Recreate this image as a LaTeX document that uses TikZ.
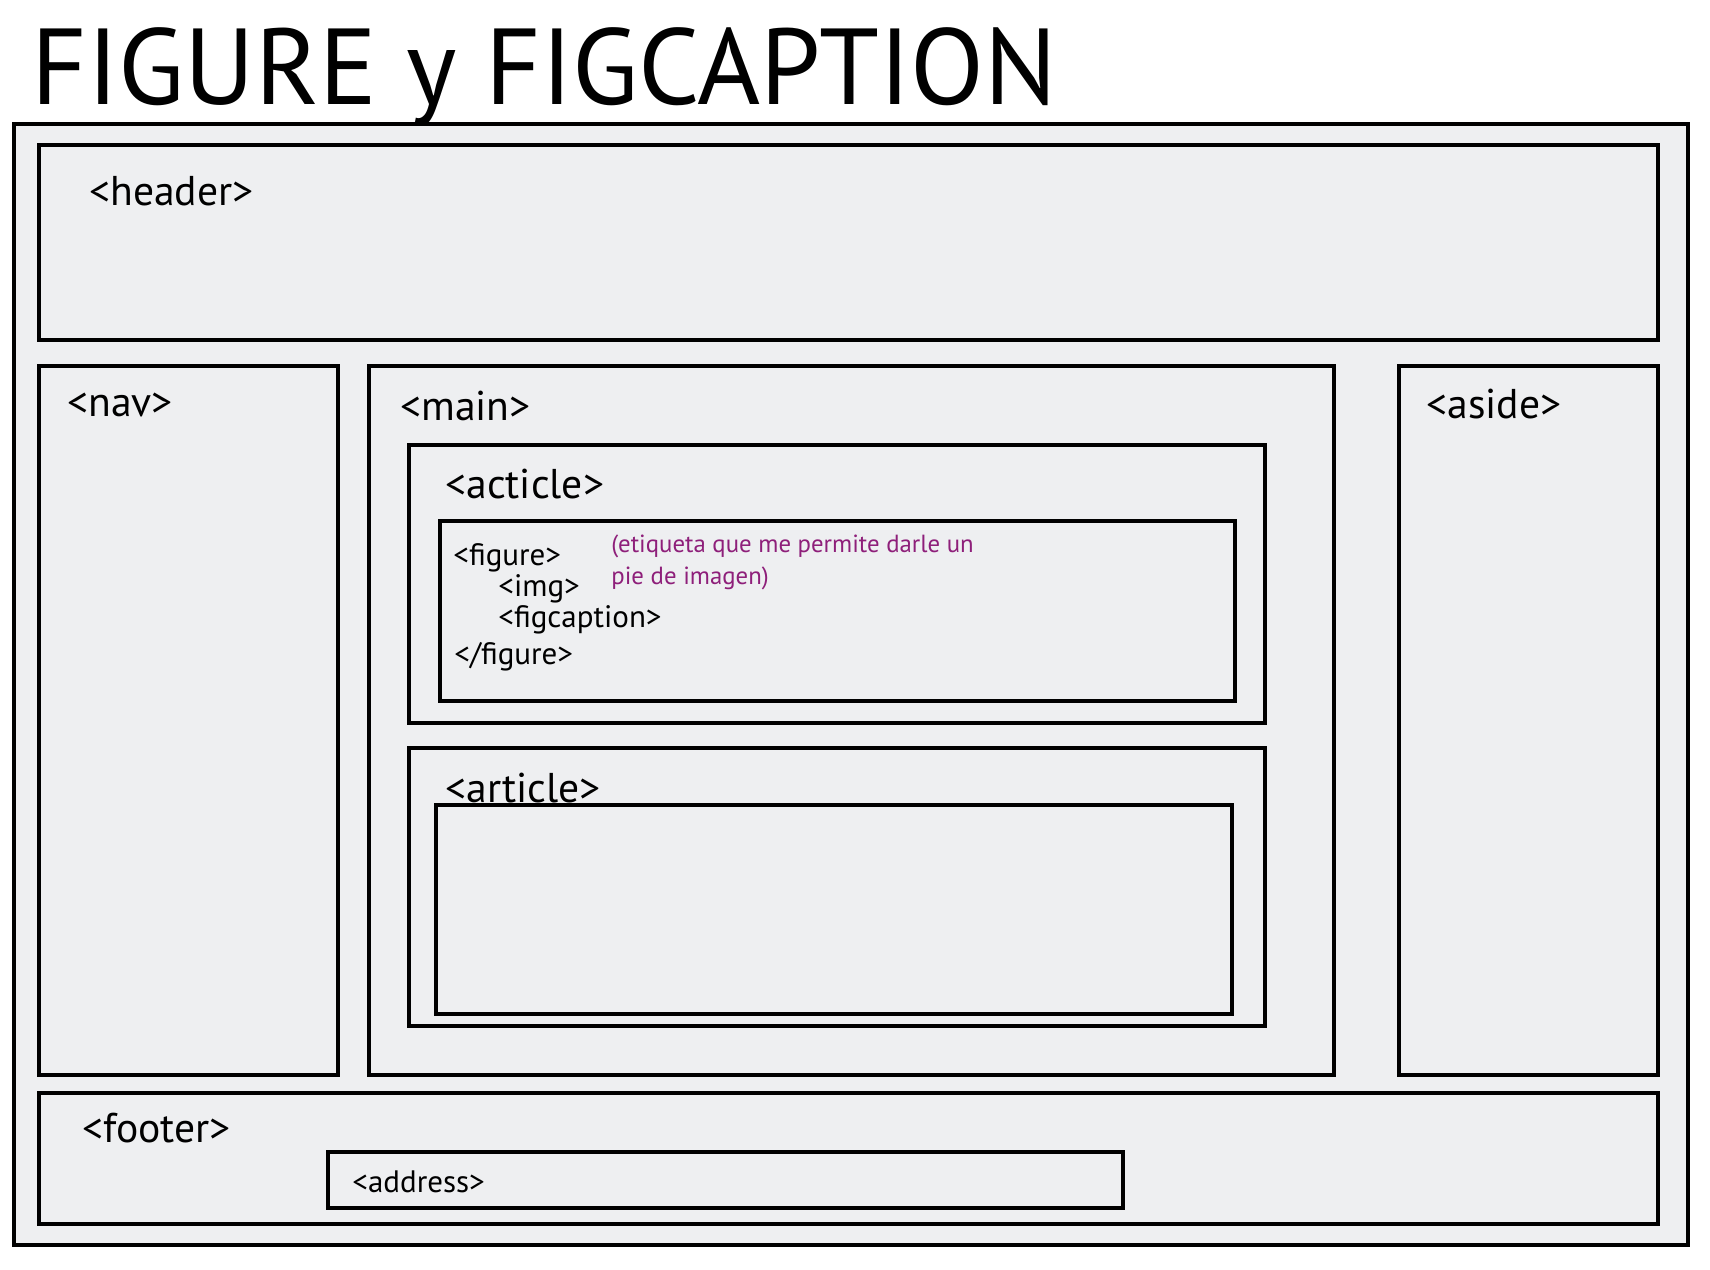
\documentclass[tikz,border=0pt]{standalone}
\usepackage{fontspec}
\setmainfont{PT Sans}
\usepackage{xcolor}
\usepackage{tikz}
\usetikzlibrary{positioning}

\definecolor{boxgray}{RGB}{238,239,241}
\definecolor{notepurple}{RGB}{142,31,122}

\tikzset{
  box/.style={draw=black, line width=1.9pt, fill=boxgray},
  tag/.style={anchor=west, inner sep=0pt, font=\fontsize{20.8}{24}\selectfont},
  smalltag/.style={anchor=west, inner sep=0pt, font=\fontsize{15.5}{18}\selectfont},
  note/.style={anchor=west, inner sep=0pt, text=notepurple, font=\fontsize{12.4}{15}\selectfont}
}

\begin{document}
\begin{tikzpicture}[x=0.5pt,y=-0.5pt]
\useasboundingbox (0,0) rectangle (1710,1270);

% title
\node (title) [anchor=west, inner sep=0pt, font=\fontsize{54}{58}\selectfont]
  at (31,77) {FIGURE y FIGCAPTION};

% page
\draw [box] (14,124) rectangle (1688,1245);

% header
\draw [box] (39,145) rectangle (1658,340);
\node (header) [tag] at (89,191) {<header>};

% nav
\draw [box] (39,366) rectangle (338,1075);
\node (nav) [tag] at (67,405) {<nav>};

% main
\draw [box] (369,366) rectangle (1334,1075);
\node (main) [tag] at (400,406) {<main>};

% aside
\draw [box] (1399,366) rectangle (1658,1075);
\node (aside) [tag] at (1426,404) {<aside>};

% first article with figure
\draw [box] (409,445) rectangle (1265,723);
\node (acticle) [tag] at (445,484) {<acticle>};
\draw [box] (440,521) rectangle (1235,701);
\node (figopen) [smalltag] at (453,558) {<figure>};
\node (img) [smalltag] at (498,589) {<img>};
\node (figcap) [smalltag] at (498,620) {<figcaption>};
\node (figclose) [smalltag] at (454,657) {</figure>};
\node (note1) [note] at (611,546) {(etiqueta que me permite darle un};
\node (note2) [note, below=4pt of note1.south west, anchor=north west] {pie de imagen)};

% second article
\draw [box] (409,748) rectangle (1265,1026);
\draw [box] (436,805) rectangle (1232,1014);
\node (article) [tag] at (445,788) {<article>};

% footer
\draw [box] (39,1093) rectangle (1658,1224);
\node (footer) [tag] at (82,1128) {<footer>};
\draw [box] (328,1152) rectangle (1123,1208);
\node (address) [smalltag] at (352,1182) {<address>};

\end{tikzpicture}
\end{document}
